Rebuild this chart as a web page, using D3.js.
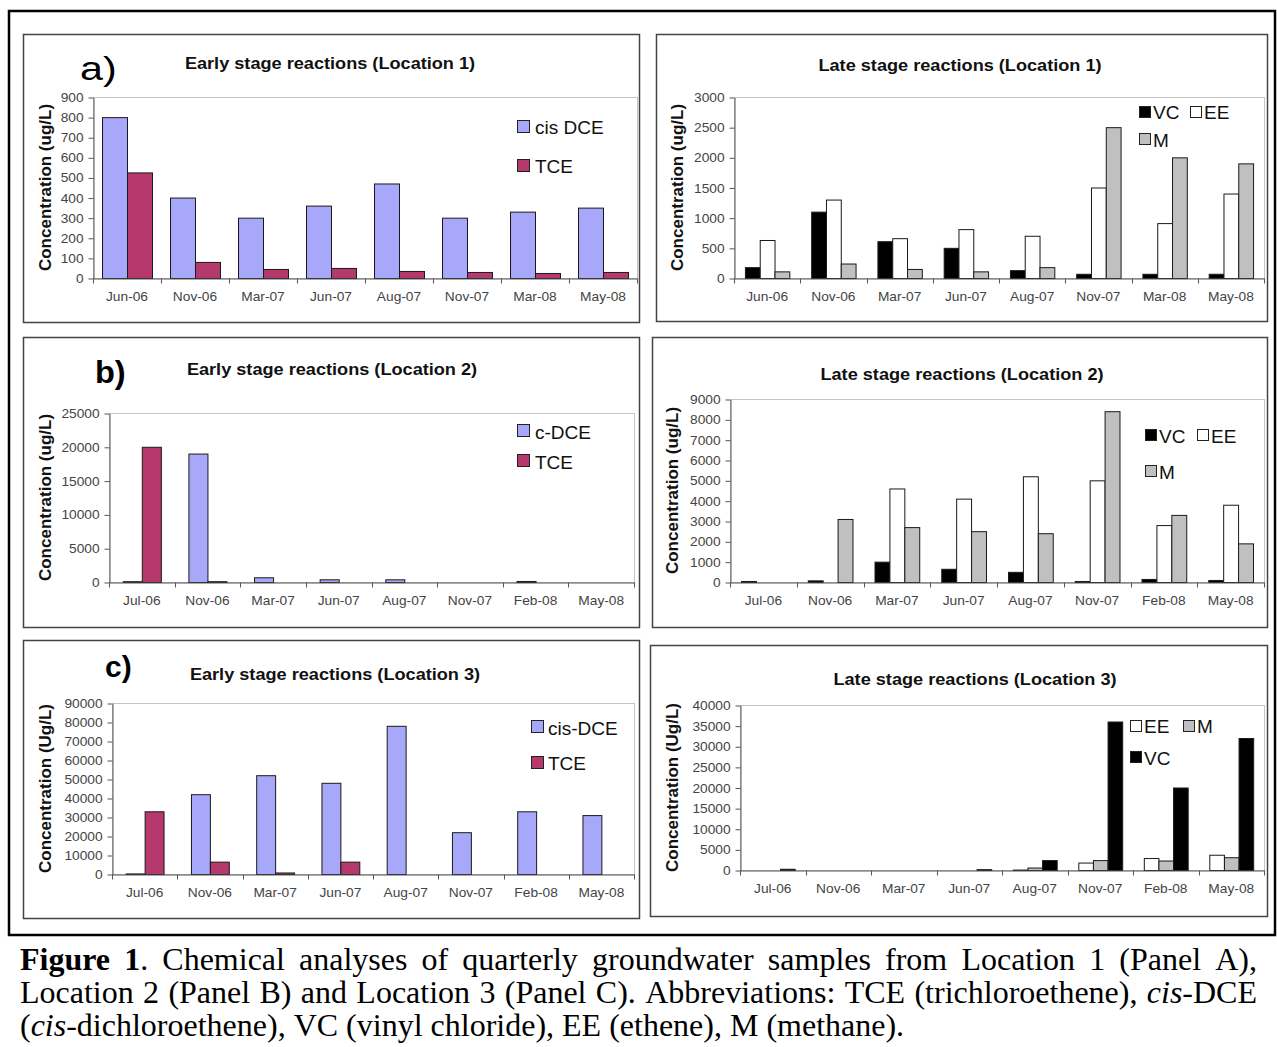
<!DOCTYPE html>
<html><head><meta charset="utf-8">
<script src="https://cdn.jsdelivr.net/npm/d3@7"></script>
<style>body{margin:0;background:#fff}svg{display:block}</style>
</head><body>
<svg id="fig" width="1277" height="1047"></svg>
<script>
// ---------------- DATA ----------------
const categoriesLoc1 = ["Jun-06","Nov-06","Mar-07","Jun-07","Aug-07","Nov-07","Mar-08","May-08"];
const categoriesLoc2 = ["Jul-06","Nov-06","Mar-07","Jun-07","Aug-07","Nov-07","Feb-08","May-08"];
const categoriesLoc3 = ["Jul-06","Nov-06","Mar-07","Jun-07","Aug-07","Nov-07","Feb-08","May-08"];

const loc1CisDCE = [800, 400, 300, 360, 470, 300, 330, 350];
const loc1TCE    = [525, 80, 45, 50, 35, 30, 25, 30];
const loc1VC     = [180, 1100, 610, 500, 130, 70, 70, 70];
const loc1EE     = [630, 1300, 660, 810, 700, 1500, 910, 1400];
const loc1M      = [110, 240, 150, 110, 180, 2500, 2000, 1900];

const loc2cDCE   = [120, 19000, 700, 400, 400, 0, 150, 0];
const loc2TCE    = [20000, 120, 0, 0, 0, 0, 0, 0];
const loc2VC     = [50, 80, 1000, 650, 500, 50, 150, 100];
const loc2EE     = [0, 0, 4600, 4100, 5200, 5000, 2800, 3800];
const loc2M      = [0, 3100, 2700, 2500, 2400, 8400, 3300, 1900];

const loc3CisDCE = [300, 42000, 52000, 48000, 78000, 22000, 33000, 31000];
const loc3TCE    = [33000, 6500, 800, 6500, 0, 0, 0, 0];
const loc3EE     = [0, 0, 0, 0, 100, 1800, 2900, 3700];
const loc3M      = [0, 0, 0, 0, 600, 2400, 2300, 3100];
const loc3VC     = [300, 0, 0, 200, 2400, 36000, 20000, 32000];

const yTicksA  = [0,100,200,300,400,500,600,700,800,900];
const yTicksA2 = [0,500,1000,1500,2000,2500,3000];
const yTicksB  = [0,5000,10000,15000,20000,25000];
const yTicksB2 = [0,1000,2000,3000,4000,5000,6000,7000,8000,9000];
const yTicksC  = [0,10000,20000,30000,40000,50000,60000,70000,80000,90000];
const yTicksC2 = [0,5000,10000,15000,20000,25000,30000,35000,40000];

const captionLines = [
  "**Figure** **1**. Chemical analyses of quarterly groundwater samples from Location 1 (Panel A),",
  "Location 2 (Panel B) and Location 3 (Panel C). Abbreviations: TCE (trichloroethene), _cis_-DCE",
  "(_cis_-dichloroethene), VC (vinyl chloride), EE (ethene), M (methane)."
];

// ---------------- STYLE ----------------
const COL = {cis:"#a8a8fa", tce:"#b5396c", vc:"#000000", ee:"#ffffff", m:"#c0c0c0"};
const SANS = "'Liberation Sans', Arial, sans-serif";
const SX = 1.1;

const svg = d3.select("#fig");

const charts = [
 {panel:[23,34,639,322], plot:[93,97,637,278], cats:categoriesLoc1, ticks:yTicksA, gap:0.265,
  title:"Early stage reactions (Location 1)", tx:330, ty:69, tag:"a)", tagX:80, tagY:80, tagW:"normal", tagS:33, tagSX:1.25,
  yTitle:"Concentration (ug/L)", yx:45,
  series:[{n:"cis DCE",v:loc1CisDCE,f:COL.cis},{n:"TCE",v:loc1TCE,f:COL.tce}],
  legend:[{s:0,x:517,y:120,lx:535,ly:134},{s:1,x:517,y:159,lx:535,ly:173}], sq:12},
 {panel:[656,34,1267,321], plot:[734,97,1264,278], cats:categoriesLoc1, ticks:yTicksA2, gap:0.33,
  title:"Late stage reactions (Location 1)", tx:960, ty:71,
  yTitle:"Concentration (ug/L)", yx:677,
  series:[{n:"VC",v:loc1VC,f:COL.vc},{n:"EE",v:loc1EE,f:COL.ee},{n:"M",v:loc1M,f:COL.m}],
  legend:[{s:0,x:1139,y:106,lx:1153,ly:119},{s:1,x:1190,y:106,lx:1204,ly:119},{s:2,x:1139,y:133,lx:1153,ly:147}], sq:11},
 {panel:[23,337,639,627], plot:[109,413,634,582], cats:categoriesLoc2, ticks:yTicksB, gap:0.42,
  title:"Early stage reactions (Location 2)", tx:332, ty:375, tag:"b)", tagX:95, tagY:383, tagW:"bold", tagS:31, tagSX:1.05,
  yTitle:"Concentration (ug/L)", yx:45,
  series:[{n:"c-DCE",v:loc2cDCE,f:COL.cis},{n:"TCE",v:loc2TCE,f:COL.tce}],
  legend:[{s:0,x:517,y:424,lx:535,ly:439},{s:1,x:517,y:454,lx:535,ly:469}], sq:12},
 {panel:[652,337,1267,627], plot:[730,399,1264,582], cats:categoriesLoc2, ticks:yTicksB2, gap:0.33,
  title:"Late stage reactions (Location 2)", tx:962, ty:380,
  yTitle:"Concentration (ug/L)", yx:672,
  series:[{n:"VC",v:loc2VC,f:COL.vc},{n:"EE",v:loc2EE,f:COL.ee},{n:"M",v:loc2M,f:COL.m}],
  legend:[{s:0,x:1145,y:429,lx:1159,ly:443},{s:1,x:1197,y:429,lx:1211,ly:443},{s:2,x:1145,y:465,lx:1159,ly:479}], sq:11},
 {panel:[23,640,639,918], plot:[112,703,634,874], cats:categoriesLoc3, ticks:yTicksC, gap:0.42,
  title:"Early stage reactions (Location 3)", tx:335, ty:680, tag:"c)", tagX:105, tagY:677, tagW:"bold", tagS:30, tagSX:1.0,
  yTitle:"Concentration (Ug/L)", yx:45,
  series:[{n:"cis-DCE",v:loc3CisDCE,f:COL.cis},{n:"TCE",v:loc3TCE,f:COL.tce}],
  legend:[{s:0,x:531,y:720,lx:548,ly:735},{s:1,x:531,y:756,lx:548,ly:770}], sq:12},
 {panel:[650,645,1267,916], plot:[740,705,1264,870], cats:categoriesLoc3, ticks:yTicksC2, gap:0.33,
  title:"Late stage reactions (Location 3)", tx:975, ty:685,
  yTitle:"Concentration (Ug/L)", yx:672,
  series:[{n:"EE",v:loc3EE,f:COL.ee},{n:"M",v:loc3M,f:COL.m},{n:"VC",v:loc3VC,f:COL.vc}],
  legend:[{s:0,x:1130,y:720,lx:1144,ly:733},{s:1,x:1183,y:720,lx:1197,ly:733},{s:2,x:1130,y:751,lx:1144,ly:765}], sq:11}
];

// outer frame
svg.append("rect").attr("x",9).attr("y",11).attr("width",1266).attr("height",924)
  .attr("fill","#fff").attr("stroke","#000").attr("stroke-width",2.5);

function stretchedText(g, x, y, str, o) {
  return g.append("text")
    .attr("transform", `translate(${x},${y}) scale(${o.sx||1},1)`)
    .attr("text-anchor", o.anchor || "start")
    .attr("font-family", SANS)
    .attr("font-size", o.size)
    .attr("font-weight", o.weight || "normal")
    .attr("fill", o.fill || "#000")
    .text(str);
}

charts.forEach(c => {
  const g = svg.append("g");
  const [pL,pT,pR,pB] = c.panel;
  g.append("rect").attr("x",pL+0.5).attr("y",pT+0.5).attr("width",pR-pL).attr("height",pB-pT)
    .attr("fill","#fff").attr("stroke","#444").attr("stroke-width",1.5);

  const [L,T,R,B] = c.plot;
  const yMax = d3.max(c.ticks);
  const x0 = d3.scaleBand().domain(c.cats).range([L,R]).padding(0);
  const bw = x0.bandwidth();
  const x1 = d3.scaleBand().domain(d3.range(c.series.length))
    .range([bw*c.gap/2, bw*(1-c.gap/2)]).padding(0);
  const y = d3.scaleLinear().domain([0,yMax]).range([B,T]);

  // plot area border (light)
  g.append("rect").attr("x",L+0.5).attr("y",T+0.5).attr("width",R-L).attr("height",B-T)
    .attr("fill","none").attr("stroke","#c4c4c4").attr("stroke-width",1);

  // bars
  c.series.forEach((s,si) => {
    g.append("g").selectAll("rect")
      .data(c.cats.map((cat,i)=>({cat, v:s.v[i]})).filter(d=>d.v>0))
      .join("rect")
      .attr("x", d => x0(d.cat) + x1(si) + 0.5)
      .attr("y", d => y(d.v) + 0.5)
      .attr("width", x1.bandwidth())
      .attr("height", d => Math.max(0, y(0)-y(d.v)))
      .attr("fill", s.f).attr("stroke","#1a1a1a").attr("stroke-width",1);
  });

  // y axis
  const ya = g.append("g").attr("transform",`translate(${L+0.5},0.5)`)
    .call(d3.axisLeft(y).tickValues(c.ticks).tickFormat(d3.format("d")).tickSize(5).tickSizeOuter(0).tickPadding(4));
  ya.select(".domain").attr("stroke","#555");
  ya.selectAll(".tick line").attr("stroke","#555");
  ya.selectAll(".tick text").attr("font-family",SANS).attr("font-size",12.5).attr("fill","#444")
    .attr("transform",`scale(${SX},1)`);

  // x axis: labels, baseline, tick marks at boundaries
  const xa = g.append("g").attr("transform",`translate(0,${B+0.5})`)
    .call(d3.axisBottom(x0).tickSize(0).tickSizeOuter(0).tickPadding(14));
  xa.select(".domain").attr("stroke","#555");
  xa.selectAll(".tick text").attr("font-family",SANS).attr("font-size",12.5).attr("fill","#444")
    .attr("transform",`scale(${SX},1)`);
  const bounds = c.cats.map(cat => x0(cat)).concat([R]);
  g.append("g").selectAll("line").data(bounds).join("line")
    .attr("x1",d=>Math.round(d)+0.5).attr("x2",d=>Math.round(d)+0.5)
    .attr("y1",B+0.5).attr("y2",B+5.5).attr("stroke","#555");

  // titles
  stretchedText(g, c.tx, c.ty, c.title, {size:16.5, weight:"bold", anchor:"middle", sx:SX, fill:"#111"});
  if (c.tag) stretchedText(g, c.tagX, c.tagY, c.tag, {size:c.tagS, weight:c.tagW, fill:"#000", sx:c.tagSX});
  g.append("text")
    .attr("transform",`translate(${c.yx},${(T+B)/2}) rotate(-90)`)
    .attr("text-anchor","middle").attr("dominant-baseline","central")
    .attr("font-family",SANS).attr("font-size",17).attr("font-weight","bold").attr("fill","#111")
    .text(c.yTitle);

  // legend
  c.legend.forEach(it => {
    const s = c.series[it.s];
    g.append("rect").attr("x",it.x+0.5).attr("y",it.y+0.5).attr("width",c.sq).attr("height",c.sq)
      .attr("fill",s.f).attr("stroke","#222").attr("stroke-width",1);
    stretchedText(g, it.lx, it.ly, s.n, {size:19, fill:"#111"});
  });
});

// ---------------- CAPTION (justified) ----------------
const capG = svg.append("g");
const capLeft = 20, capRight = 1257, capSize = 32;
const baselines = [970, 1003, 1036];
function parseWord(w) {
  const runs = [];
  const re = /(\*\*[^*]+\*\*|_[^_]+_|[^*_]+)/g;
  let m;
  while ((m = re.exec(w))) {
    const t = m[0];
    if (t.startsWith("**")) runs.push({t:t.slice(2,-2), b:true});
    else if (t.startsWith("_")) runs.push({t:t.slice(1,-1), i:true});
    else runs.push({t});
  }
  return runs;
}
captionLines.forEach((line, li) => {
  const words = line.split(" ");
  const els = words.map(w => {
    const te = capG.append("text").attr("font-family","'Liberation Serif','Times New Roman',serif")
      .attr("font-size",capSize).attr("fill","#000").attr("y",baselines[li]);
    parseWord(w).forEach(r => {
      te.append("tspan").attr("font-weight", r.b ? "bold" : "normal")
        .attr("font-style", r.i ? "italic" : "normal").text(r.t);
    });
    return te;
  });
  const widths = els.map(e => e.node().getComputedTextLength());
  const total = d3.sum(widths);
  const justify = li < captionLines.length - 1;
  const gapW = justify ? (capRight - capLeft - total) / (words.length - 1) : capSize * 0.25;
  let x = capLeft;
  els.forEach((e, i) => { e.attr("x", x); x += widths[i] + gapW; });
});
</script>
</body></html>
